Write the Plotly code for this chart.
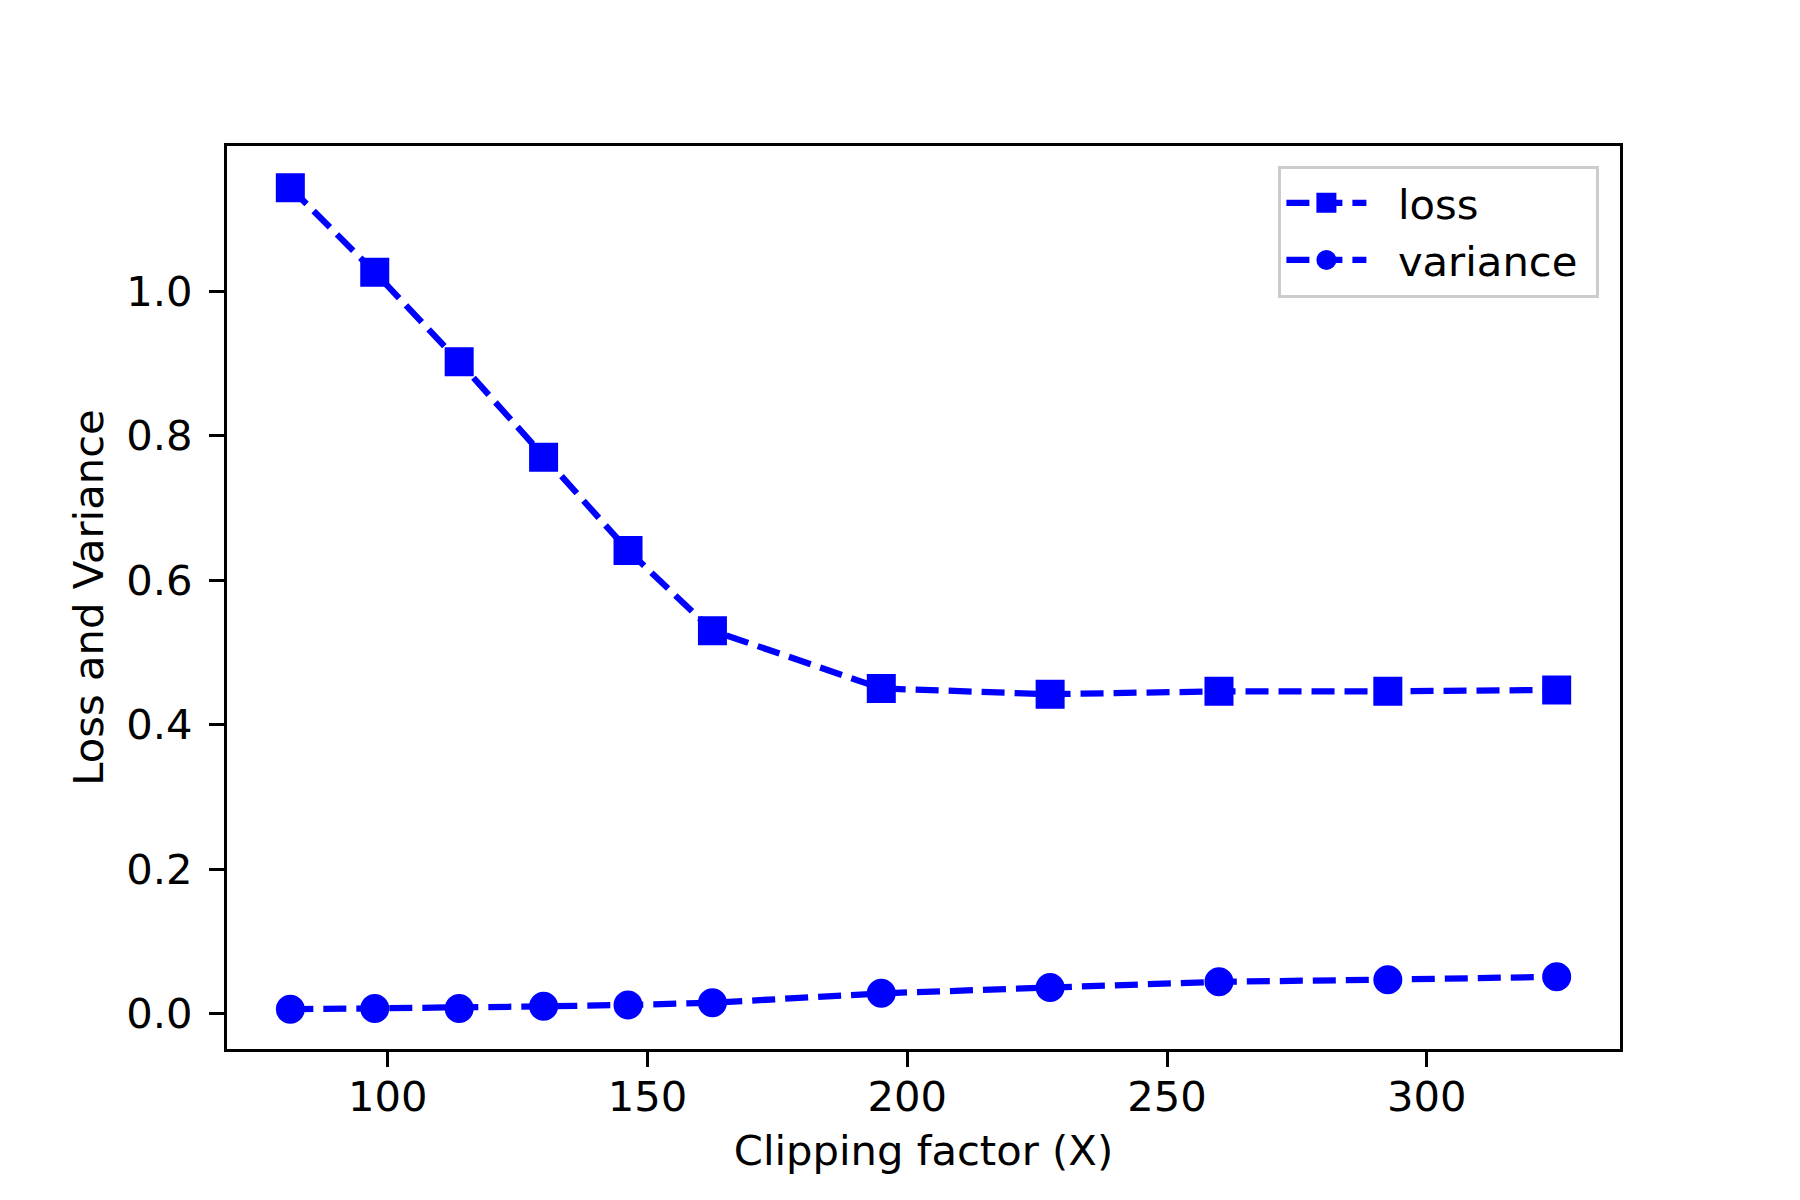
import plotly.graph_objects as go

clipping_factor = [81.25, 97.5, 113.75, 130, 146.25, 162.5, 195, 227.5, 260, 292.5, 325]
loss = [1.143, 1.026, 0.902, 0.770, 0.641, 0.530, 0.450, 0.442, 0.446, 0.446, 0.448]
variance = [0.006, 0.007, 0.007, 0.010, 0.012, 0.015, 0.028, 0.036, 0.044, 0.047, 0.051]
x_ticks = [100, 150, 200, 250, 300]
y_ticks = [0.0, 0.2, 0.4, 0.6, 0.8, 1.0]

FONT = "DejaVu Sans"
FS = 41.7
BLUE = "#0000ff"
DASH = "23px,10px"
PAD = "\u00a0\u00a0"
TAIL = "\u00a0"

fig = go.Figure()
fig.add_trace(go.Scatter(
    x=clipping_factor, y=loss, name=PAD + "loss" + TAIL, mode="lines+markers",
    line=dict(color=BLUE, width=6.25, dash=DASH),
    marker=dict(symbol="square", size=25, color=BLUE, line=dict(color=BLUE, width=4)),
))
fig.add_trace(go.Scatter(
    x=clipping_factor, y=variance, name=PAD + "variance" + TAIL, mode="lines+markers",
    line=dict(color=BLUE, width=6.25, dash=DASH),
    marker=dict(symbol="circle", size=25, color=BLUE, line=dict(color=BLUE, width=4)),
))

axis_common = dict(
    showline=True, linecolor="black", linewidth=3.3, mirror=True,
    ticks="outside", ticklen=15, tickwidth=3.3, tickcolor="black",
    showgrid=False, zeroline=False,
    tickfont=dict(family=FONT, size=FS, color="black"),
)

fig.update_layout(
    width=1800, height=1200,
    margin=dict(l=219, r=188, t=138, b=159, autoexpand=False),
    paper_bgcolor="white", plot_bgcolor="white",
    font=dict(family=FONT, size=FS, color="black"),
    xaxis=dict(
        range=[69.06, 337.19], tickvals=x_ticks, ticktext=[str(v) for v in x_ticks],
        title=dict(text="Clipping factor (X)", font=dict(family=FONT, size=FS), standoff=16),
        ticklabelstandoff=-6,
        **axis_common,
    ),
    yaxis=dict(
        range=[-0.049, 1.2007], tickvals=y_ticks, ticktext=[f"{v:.1f}" for v in y_ticks],
        title=dict(text="Loss and Variance", font=dict(family=FONT, size=FS), standoff=10),
        ticklabelstandoff=8,
        **axis_common,
    ),
    legend=dict(
        x=0.985, y=0.978, xanchor="right", yanchor="top",
        bgcolor="rgba(255,255,255,0.8)", bordercolor="#cccccc", borderwidth=3.3,
        font=dict(family=FONT, size=FS, color="black"),
        itemwidth=80, tracegroupgap=0,
    ),
    showlegend=True,
)

fig.write_html("out.html")
